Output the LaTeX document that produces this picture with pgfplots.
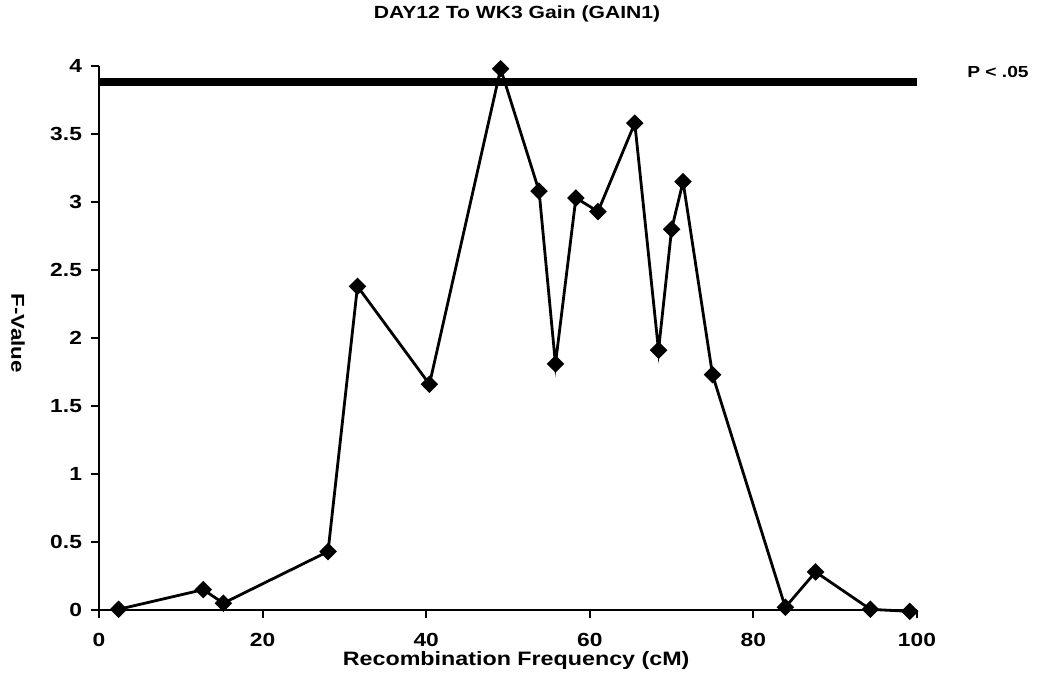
\documentclass[border=0pt]{standalone}
\usepackage{fontspec}
\setmainfont{Liberation Sans}[FakeStretch=1.2]
\usepackage{pgfplots}
\pgfplotsset{compat=1.18}
\pgfplotstableread{
x y
2.4 0.005
12.75 0.15
15.2 0.05
28.0 0.43
31.6 2.38
40.4 1.66
49.1 3.98
53.8 3.08
55.8 1.81
58.3 3.03
61.0 2.93
65.5 3.58
68.4 1.91
70.0 2.80
71.4 3.15
75.0 1.73
83.9 0.02
87.6 0.28
94.3 0.005
99.1 -0.01
}\fdata
\pgfplotstableread{
x y
0 3.88
100 3.88
}\threshold
\begin{document}
\begin{tikzpicture}
\useasboundingbox (-49.5pt,-38.5pt) rectangle (477pt,305pt);
\begin{axis}[
  at={(0pt,0pt)}, anchor=south west, scale only axis,
  width=409pt, height=272pt,
  xmin=0, xmax=100, ymin=0, ymax=4,
  axis x line*=bottom, axis y line*=left,
  axis line style={line width=1.2pt, black},
  xtick={0,20,40,60,80,100},
  ytick={0,0.5,1,1.5,2,2.5,3,3.5,4},
  tick align=outside, major tick length=4pt,
  tick style={line width=1pt, black},
  /pgf/number format/assume math mode=true,
  ticklabel style={font=\bfseries\fontsize{9.5}{11}\selectfont},
  x tick label style={yshift=-4pt},
  y tick label style={xshift=-1pt},
  clip=false,
]
\addplot[black, line width=4pt] table {\threshold};
\addplot[black, line width=1.4pt, mark=square*, mark size=2.4pt,
  mark options={rotate=45, solid, fill=black}] table {\fdata};
\node[font=\bfseries\fontsize{8.8}{10}\selectfont] at ([yshift=26pt]axis description cs:0.511,1) {DAY12 To WK3 Gain (GAIN1)};
\node[font=\bfseries\fontsize{9.7}{11}\selectfont] at ([yshift=-25pt]axis description cs:0.51,0) {Recombination Frequency (cM)};
\node[font=\bfseries\fontsize{9.3}{10}\selectfont, rotate=-90] at ([xshift=-40.5pt]axis description cs:0,0.509) {F-Value};
\node[font=\bfseries\fontsize{8}{10}\selectfont] at (axis description cs:1.099,0.989) {P < .05};
\end{axis}
\end{tikzpicture}
\end{document}
